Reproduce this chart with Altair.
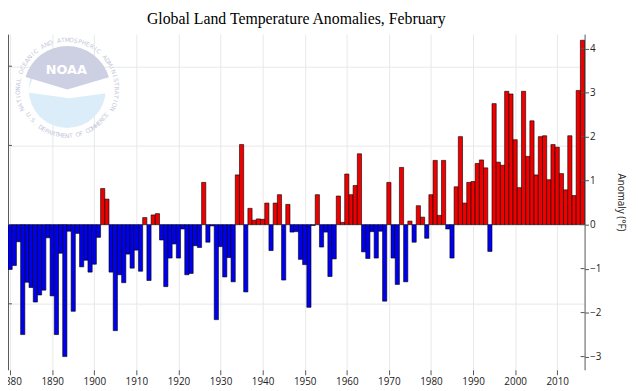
import math
import altair as alt
import pandas as pd

# ---------------- data ----------------
years = list(range(1880, 2017))
anomaly_f = [
    -1.02, -0.93, -0.39, -2.50, -1.31, -1.43, -1.76, -1.60, -1.49, -0.30,   # 1880-1889
    -1.62, -2.50, -0.65, -3.00, -0.15, -1.97, -0.20, -0.96, -0.81, -1.08,   # 1890-1899
    -0.90, -0.29, 0.82, 0.58, -1.08, -2.41, -1.14, -1.32, -0.67, -0.99,     # 1900-1909
    -0.58, -1.06, 0.16, -1.27, 0.22, 0.25, -0.35, -1.41, -0.76, -0.44,      # 1910-1919
    -0.76, -0.10, -1.14, -1.11, -0.48, -0.52, 0.96, -0.40, -0.03, -2.16,    # 1920-1929
    -0.50, -1.19, -0.75, -1.30, 1.13, 1.82, -1.53, 0.37, 0.10, 0.13,        # 1930-1939
    0.12, 0.49, -0.59, 0.49, 0.68, -1.26, 0.46, -0.17, -0.16, -0.79,        # 1940-1949
    -0.91, -1.88, -0.02, 0.68, -0.51, -0.17, -1.18, -0.78, 0.65, 0.05,      # 1950-1959
    1.15, 0.68, 0.89, 1.61, -0.62, -0.77, -0.16, -0.76, -0.15, -1.74,       # 1960-1969
    0.96, -0.76, -1.36, 1.30, -1.30, 0.08, -0.40, 0.43, 0.17, -0.31,        # 1970-1979
    0.68, 1.46, 0.21, 1.46, -0.10, -0.76, 0.86, 2.00, 0.49, 0.96,           # 1980-1989
    0.98, 1.39, 1.47, 1.29, -0.61, 2.75, 1.42, 1.35, 3.03, 2.97,            # 1990-1999
    1.93, 0.84, 3.03, 1.55, 2.36, 1.13, 2.00, 2.02, 1.02, 1.82,             # 2000-2009
    1.76, 1.16, 0.79, 2.02, 0.66, 3.05, 4.19,                               # 2010-2016
]
assert len(anomaly_f) == len(years)

decade_ticks = list(range(1880, 2011, 10))
f_ticks = [-3, -2, -1, 0, 1, 2, 3, 4]
c_ticks = [-1, 0, 1, 2]

title_text = "Global Land Temperature Anomalies, February"
y_title = "Anomaly (°F)"
logo_name = "NOAA"
logo_top_text = "NATIONAL OCEANIC AND ATMOSPHERIC ADMINISTRATION"
logo_bottom_text = "U.S. DEPARTMENT OF COMMERCE"

df = pd.DataFrame({"year": years, "anom": anomaly_f})

RED = "#ee0000"
BLUE = "#0000ee"
GRID = "#e8e8e8"
AXC = "#555555"
FONT = "Open Sans"
W, H = 584, 340

y_lo, y_hi = -3.30, 4.33
x_scale = alt.Scale(domain=[1879.5, 2016.5], nice=False, zero=False)
yF = alt.Scale(domain=[y_lo, y_hi], nice=False, zero=False)
yC = alt.Scale(domain=[y_lo / 1.8, y_hi / 1.8], nice=False, zero=False)

base = alt.Chart(df)

bars = base.transform_calculate(
    x0="datum.year - 0.5", x1="datum.year + 0.5"
).mark_rect(stroke="black", strokeWidth=0.6).encode(
    x=alt.X("x0:Q", scale=x_scale,
            axis=alt.Axis(values=decade_ticks, format="d", title=None, domain=False,
                          grid=True, gridColor=GRID, gridWidth=1,
                          tickSize=5, tickColor=AXC, labelPadding=2,
                          labelFont=FONT, labelFontSize=10, labelColor="#222222")),
    x2="x1:Q",
    y=alt.Y("anom:Q", scale=yF,
            axis=alt.Axis(orient="right", values=f_ticks, title=y_title, grid=False,
                          domainColor=AXC, tickColor=AXC, tickSize=4, labelPadding=1,
                          labelFont=FONT, labelFontSize=10, labelColor="#222222",
                          titleFont=FONT, titleFontSize=10, titleFontWeight="normal",
                          titleColor="#222222", titlePadding=15)),
    y2=alt.datum(0),
    color=alt.condition("datum.anom > 0", alt.value(RED), alt.value(BLUE)),
)

left_axis = base.transform_calculate(c="datum.anom / 1.8").mark_point(opacity=0).encode(
    x=alt.X("year:Q", scale=x_scale),
    y=alt.Y("c:Q", scale=yC,
            axis=alt.Axis(orient="left", values=c_ticks, labels=False, title=None,
                          grid=True, gridColor=GRID, domainColor=AXC, tickColor=AXC,
                          tickSize=5)),
)

# inner halves of the axis ticks (the reference ticks cross the axis lines)
left_ticks = alt.Chart(pd.DataFrame({"c": c_ticks})).mark_rule(color=AXC).encode(
    x=alt.value(0), x2=alt.value(4), y=alt.Y("c:Q", scale=yC, axis=None))
right_ticks = alt.Chart(pd.DataFrame({"f": f_ticks})).mark_rule(color=AXC).encode(
    x=alt.value(W - 4), x2=alt.value(W), y=alt.Y("f:Q", scale=yF, axis=None))

# ---------------- pale NOAA watermark (decorative) ----------------
CX, CY, R = 60, 56, 44
logo_df = pd.DataFrame({"k": [0]})
logo_disk = alt.Chart(logo_df).mark_circle(size=math.pi * R * R, color="#dbedf8", opacity=1).encode(
    x=alt.value(CX), y=alt.value(CY))
logo_wing = alt.Chart(logo_df).mark_arc(x=CX + 2, y=CY + 9, radius=R - 2, theta=4.85, theta2=7.72,
                                        color="#ffffff").encode(
    x=alt.value(CX + 2), y=alt.value(CY + 9))
logo_cap = alt.Chart(logo_df).mark_arc(x=CX, y=CY, radius=R, theta=5.0, theta2=7.57,
                                       color="#cdd0e3").encode(
    x=alt.value(CX), y=alt.value(CY))
logo_text = alt.Chart(logo_df).mark_text(text=logo_name, font="DejaVu Sans", fontSize=13,
                                         fontWeight="bold", color="white").encode(
    x=alt.value(CX - 1), y=alt.value(CY - 20))

ring_rows = []
RR = 50
n_top = len(logo_top_text)
span_top = 232.0
for i, ch in enumerate(logo_top_text):
    a = -span_top / 2 + span_top * (i + 0.5) / n_top
    ar = math.radians(a)
    ring_rows.append({"ch": ch, "px": CX + RR * math.sin(ar), "py": CY - RR * math.cos(ar),
                      "rot": a % 360})
n_bot = len(logo_bottom_text)
span_bot = 118.0
for i, ch in enumerate(logo_bottom_text):
    a = 180 + span_bot / 2 - span_bot * (i + 0.5) / n_bot
    ar = math.radians(a)
    ring_rows.append({"ch": ch, "px": CX + (RR - 3) * math.sin(ar), "py": CY - (RR - 3) * math.cos(ar),
                      "rot": (a - 180) % 360})
ring = alt.Chart(pd.DataFrame(ring_rows)).mark_text(
    font="DejaVu Sans", fontSize=6, color="#c4c8da", baseline="middle", align="center"
).encode(
    x=alt.X("px:Q", scale=None), y=alt.Y("py:Q", scale=None, axis=None),
    text="ch:N", angle=alt.Angle("rot:Q", scale=None),
)

chart = alt.layer(
    logo_disk, logo_wing, logo_cap, logo_text, ring, bars, left_axis, left_ticks, right_ticks
).resolve_scale(
    y="independent"
).properties(
    width=W, height=H,
    title=alt.Title(title_text, font="Liberation Serif", fontSize=16, fontWeight="normal",
                    color="black", anchor="middle", frame="group", baseline="alphabetic",
                    offset=11, dy=17),
    autosize=alt.AutoSizeParams(type="none"),
    padding={"left": 0, "top": 24, "right": 46, "bottom": 17},
).configure_view(strokeWidth=0)

chart.save("out.html", embed_options={"renderer": "svg", "actions": False})
